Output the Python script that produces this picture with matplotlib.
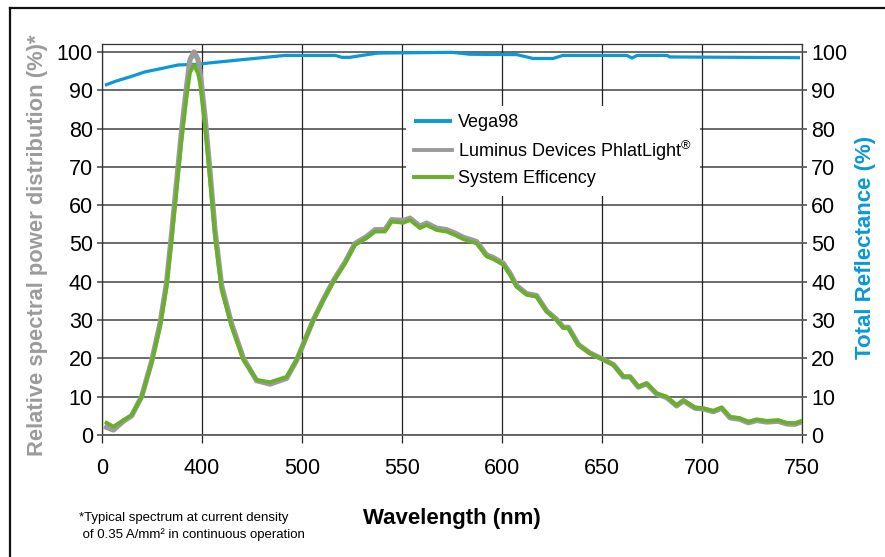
import matplotlib
matplotlib.use("Agg")
import matplotlib.pyplot as plt
from matplotlib.lines import Line2D

plt.rcParams['font.family'] = ['Liberation Sans', 'DejaVu Sans']
plt.rcParams['mathtext.fontset'] = 'custom'
plt.rcParams['mathtext.rm'] = 'Liberation Sans'
plt.rcParams['mathtext.it'] = 'Liberation Sans:italic'
plt.rcParams['mathtext.bf'] = 'Liberation Sans:bold'

# ---- data ----
x_ticks = [400, 450, 500, 550, 600, 650, 700, 750]
x_tick_labels = ['0', '400', '500', '550', '600', '650', '700', '750']
y_ticks = [0, 10, 20, 30, 40, 50, 60, 70, 80, 90, 100]

refl_wl = [401.5, 406.5, 414, 421.5, 429, 438, 448, 453, 466.5, 480, 491.5,
           516.5, 520, 524, 530, 538, 575, 584, 607.5, 611.5, 615.5, 625.5,
           630.5, 662.5, 665, 667.5, 682.5, 684, 749]
vega98 = [91.3, 92.3, 93.5, 94.8, 95.6, 96.6, 96.8, 97.1, 97.8, 98.5, 99.1,
          99.1, 98.6, 98.6, 99.1, 99.7, 99.9, 99.4, 99.3, 98.8, 98.3, 98.3,
          99.1, 99.1, 98.4, 99.1, 99.1, 98.7, 98.5]

spec_wl = [402.3, 405.7, 410.7, 414.8, 419.8, 424.8, 429, 432.3, 434.8, 437.3,
           439.8, 442.3, 444, 446, 448, 449, 451.5, 454, 456.5, 459.8, 464.8, 470.7,
           477.3, 484, 492.3, 497.3, 501.5, 505.7, 510.7, 515.7, 521.5, 526.5,
           532.3, 536.5, 541.5, 544.8, 550.7, 554, 559, 562.3, 567.3, 572.3,
           576.5, 580.7, 587.3, 592.3, 595.7, 600.7, 604, 607.3, 612.3, 617.3,
           622.3, 627.3, 630.7, 633.2, 638.2, 644, 650.7, 655.7, 660.7, 664,
           668.2, 672.3, 677.3, 682.3, 687.3, 690.7, 696.5, 700.7, 705.7, 709.8,
           714, 719, 723.2, 727.3, 732.3, 738.2, 742.3, 746.5, 750]
system_eff = [3.2, 2.2, 3.9, 5.2, 10.0, 18.8, 28.3, 38.7, 50.9, 64.0,
              77.0, 88.3, 94.6, 96.6, 94.4, 91.9, 80.5, 66.6, 51.8, 37.9, 28.3, 19.6,
              14.4, 13.8, 15.2, 19.6, 24.8, 30.0, 35.2, 40.0, 44.8, 49.6,
              51.4, 53.1, 53.1, 55.7, 55.4, 56.1, 54.0, 54.8, 53.5, 53.1,
              52.2, 51.1, 50.0, 46.6, 45.9, 44.4, 41.8, 38.7, 36.6, 36.1,
              32.2, 30.0, 27.9, 27.9, 23.5, 21.3, 19.6, 18.3, 15.2, 15.2,
              12.6, 13.5, 10.9, 10.0, 7.8, 9.1, 7.2, 7.0, 6.3, 7.2,
              4.8, 4.4, 3.5, 4.1, 3.7, 3.9, 3.2, 3.1, 3.7]
phlatlight = [2.0, 1.3, 3.6, 5.0, 10.0, 19.2, 29.0, 39.8, 52.5, 66.0,
              79.5, 91.0, 98.0, 100.0, 98.0, 95.0, 83.0, 68.8, 53.5, 39.0, 29.0, 20.0,
              14.2, 13.3, 14.8, 19.5, 24.8, 30.1, 35.4, 40.3, 45.1, 50.0,
              51.8, 53.6, 53.6, 56.2, 56.0, 56.6, 54.5, 55.3, 54.0, 53.6,
              52.7, 51.6, 50.5, 47.0, 46.3, 44.8, 42.2, 39.0, 36.9, 36.4,
              32.4, 30.2, 28.1, 28.1, 23.6, 21.4, 19.7, 18.4, 15.2, 15.2,
              12.5, 13.4, 10.7, 9.8, 7.6, 8.9, 7.0, 6.8, 6.1, 7.0,
              4.5, 4.1, 3.2, 3.8, 3.4, 3.6, 2.9, 2.8, 3.5]

series_labels = ['Vega98', r'Luminus Devices PhlatLight$^{\circledR}$', 'System Efficency']

BLUE = '#0a98d6'
GREY = '#9b9b9b'
GREEN = '#6aaf2a'

# ---- figure ----
fig = plt.figure(figsize=(8.85, 5.57), dpi=100)
ax = fig.add_axes([102/885, (557-435)/557, 700/885, (435-44.3)/557])

ax.set_xlim(400, 750)
ax.set_ylim(0, 102)

for y in y_ticks:
    ax.axhline(y, color='#5f5f5f', lw=1.3, zorder=1)
for xv in x_ticks:
    ax.axvline(xv, color='#222222', lw=0.9, zorder=1)

l_blue, = ax.plot(refl_wl, vega98, color=BLUE, lw=2.3, zorder=3, solid_capstyle='butt')
l_grey, = ax.plot(spec_wl, phlatlight, color=GREY, lw=3.8, zorder=4, solid_joinstyle='round')
l_green, = ax.plot(spec_wl, system_eff, color=GREEN, lw=2.7, zorder=5, solid_joinstyle='round')

ax.set_xticks(x_ticks)
ax.set_xticklabels(x_tick_labels)
ax.set_yticks(y_ticks)
ax.tick_params(axis='x', direction='out', length=6, width=0.9, color='#222222',
               labelsize=15.5, pad=10.5)
ax.tick_params(axis='y', direction='out', length=3.6, width=1.3, color='#5f5f5f',
               labelsize=15.5, pad=3)

for s in ['left', 'top', 'right']:
    ax.spines[s].set_color('#333333')
    ax.spines[s].set_linewidth(0.9)
ax.spines['bottom'].set_color('#5f5f5f')
ax.spines['bottom'].set_linewidth(1.3)

ax2 = ax.twinx()
ax2.set_ylim(0, 102)
ax2.set_yticks(y_ticks)
ax2.tick_params(axis='y', direction='out', length=3.6, width=1.3, color='#5f5f5f',
                labelsize=15.5, pad=3)
for s in ax2.spines.values():
    s.set_visible(False)

ax.set_xlabel('Wavelength (nm)', fontsize=16, fontweight='bold', labelpad=21)
fig.text(38/885, 1 - 245/557, 'Relative spectral power distribution (%)*',
         rotation=90, ha='center', va='center', fontsize=15.8,
         fontweight='bold', color=GREY)
fig.text(866/885, 1 - 247/557, 'Total Reflectance (%)', rotation=90,
         ha='center', va='center', fontsize=16, fontweight='bold', color=BLUE)

leg = ax.legend([l_blue, l_grey, l_green], series_labels,
                loc='upper left', bbox_to_anchor=((406-102)/700, (435-106)/390.7),
                fontsize=13, frameon=True, facecolor='white', edgecolor='none',
                framealpha=1, handlelength=2.1, handletextpad=0.35,
                labelspacing=0.42, borderpad=0.45, borderaxespad=0)
leg.set_zorder(10)
for h in leg.get_lines():
    h.set_linewidth(2.8)

fig.text(79/885, 1 - 512/557,
         '*Typical spectrum at current density\n of 0.35 A/mm² in continuous operation',
         ha='left', va='top', fontsize=9.5, linespacing=1.45)

# outer frame lines (top and left)
fig.add_artist(Line2D([10/885, 10/885], [0, 1 - 8/557], transform=fig.transFigure,
                      color='#111111', lw=1.6))
fig.add_artist(Line2D([10/885, 1], [1 - 8/557, 1 - 8/557], transform=fig.transFigure,
                      color='#111111', lw=1.6))

fig.savefig('out.png', dpi=100)
